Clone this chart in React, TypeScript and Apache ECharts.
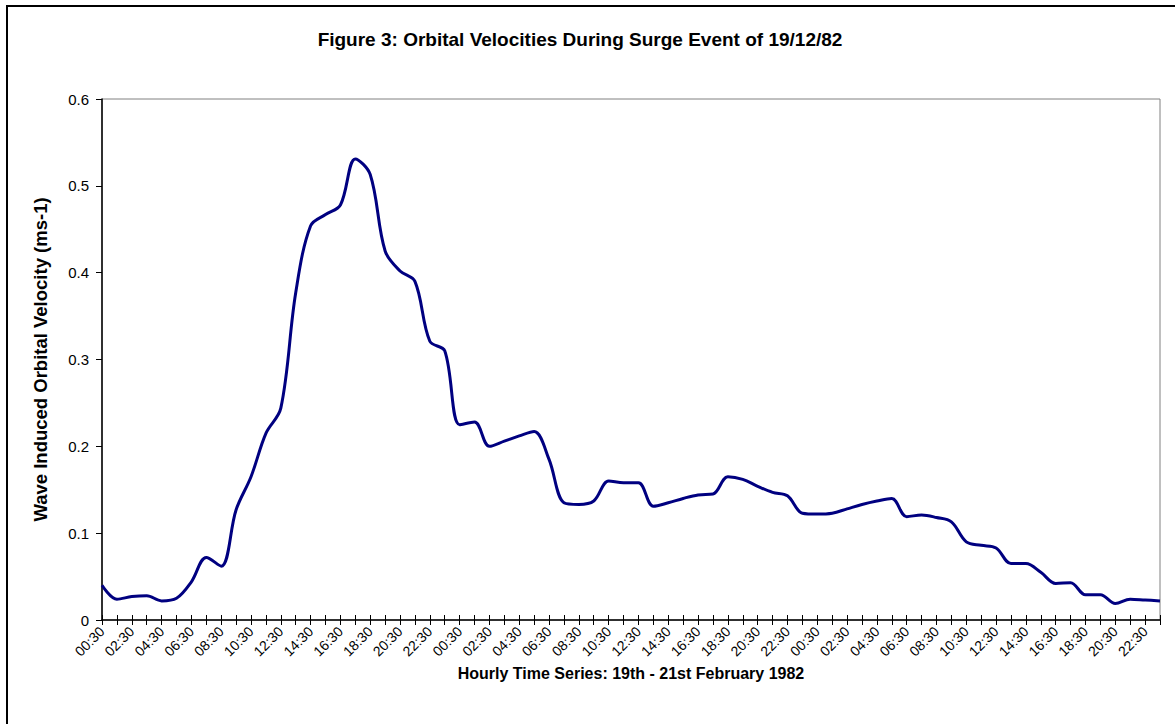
import React, { useEffect, useRef } from "react";
import * as echarts from "echarts";

const dayHours = [
  "00:30", "01:30", "02:30", "03:30", "04:30", "05:30", "06:30", "07:30",
  "08:30", "09:30", "10:30", "11:30", "12:30", "13:30", "14:30", "15:30",
  "16:30", "17:30", "18:30", "19:30", "20:30", "21:30", "22:30", "23:30",
];
const categories = [...dayHours, ...dayHours, ...dayHours];

const velocity = [
  0.040, 0.024, 0.027, 0.028, 0.022, 0.025, 0.044, 0.072, 0.062, 0.127, 0.165, 0.215,
  0.244, 0.377, 0.454, 0.467, 0.478, 0.531, 0.513, 0.425, 0.402, 0.390, 0.321, 0.310,
  0.225, 0.228, 0.200, 0.206, 0.212, 0.217, 0.185, 0.135, 0.133, 0.137, 0.160, 0.158,
  0.158, 0.131, 0.135, 0.140, 0.144, 0.145, 0.165, 0.162, 0.154, 0.147, 0.143, 0.123,
  0.122, 0.123, 0.128, 0.133, 0.137, 0.140, 0.119, 0.121, 0.118, 0.113, 0.090, 0.086,
  0.083, 0.065, 0.065, 0.055, 0.042, 0.043, 0.029, 0.029, 0.019, 0.024, 0.023, 0.022,
];

const titleText = "Figure 3: Orbital Velocities During Surge Event of 19/12/82";
const yName = "Wave Induced Orbital Velocity (ms-1)";
const xName = "Hourly Time Series: 19th - 21st February 1982";

const FONT = "'Liberation Sans', Arial, sans-serif";

export default function App() {
  const ref = useRef<HTMLDivElement>(null);
  useEffect(() => {
    if (!ref.current) return;
    const chart = echarts.init(ref.current, null, { renderer: "svg" });
    chart.setOption({
      animation: false,
      backgroundColor: "#ffffff",
      textStyle: { fontFamily: FONT },
      graphic: [
        {
          type: "rect",
          shape: { x: 7, y: 6, width: 1200, height: 800 },
          style: { fill: "none", stroke: "#000000", lineWidth: 2 },
          silent: true,
        },
        {
          type: "text",
          x: 580,
          y: 39,
          style: {
            text: titleText,
            fontFamily: FONT,
            fontSize: 19,
            fontWeight: "bold",
            fill: "#000000",
            textAlign: "center",
            textVerticalAlign: "middle",
          },
        },
      ],
      grid: {
        left: 102,
        right: 15,
        top: 99,
        bottom: 104,
        show: true,
        borderColor: "#808080",
        borderWidth: 1,
        backgroundColor: "transparent",
      },
      xAxis: [
        {
          type: "category",
          data: categories,
          boundaryGap: false,
          name: xName,
          nameLocation: "middle",
          nameGap: 35,
          nameTextStyle: { fontFamily: FONT, fontSize: 16, fontWeight: "bold", color: "#000" },
          axisLine: { lineStyle: { color: "#000", width: 1.5 } },
          axisTick: { show: true, interval: 0, length: 5, lineStyle: { color: "#000" } },
          axisLabel: {
            interval: 1,
            rotate: 45,
            margin: 9,
            fontFamily: FONT,
            fontSize: 14,
            color: "#000",
          },
          splitLine: { show: false },
        },
        {
          type: "category",
          data: categories,
          boundaryGap: false,
          position: "bottom",
          offset: 0,
          axisLine: { show: false },
          axisTick: { show: true, interval: 0, inside: true, length: 5, lineStyle: { color: "#000" } },
          axisLabel: { show: false },
          splitLine: { show: false },
        },
      ],
      yAxis: {
        type: "value",
        min: 0,
        max: 0.6,
        interval: 0.1,
        name: yName,
        nameLocation: "middle",
        nameGap: 52,
        nameTextStyle: { fontFamily: FONT, fontSize: 18.5, fontWeight: "bold", color: "#000" },
        axisLine: { show: true, lineStyle: { color: "#000", width: 1.5 } },
        axisTick: { show: true, length: 6, lineStyle: { color: "#000" } },
        axisLabel: { fontFamily: FONT, fontSize: 15, color: "#000", margin: 13 },
        splitLine: { show: false },
      },
      series: [
        {
          type: "line",
          data: velocity,
          smooth: 0.35,
          symbol: "none",
          lineStyle: { color: "#000080", width: 3 },
          xAxisIndex: 0,
        },
      ],
    });
    return () => chart.dispose();
  }, []);
  return (
    <div
      ref={ref}
      style={{ position: "fixed", left: 0, top: 0, width: 1175, height: 724 }}
    />
  );
}
